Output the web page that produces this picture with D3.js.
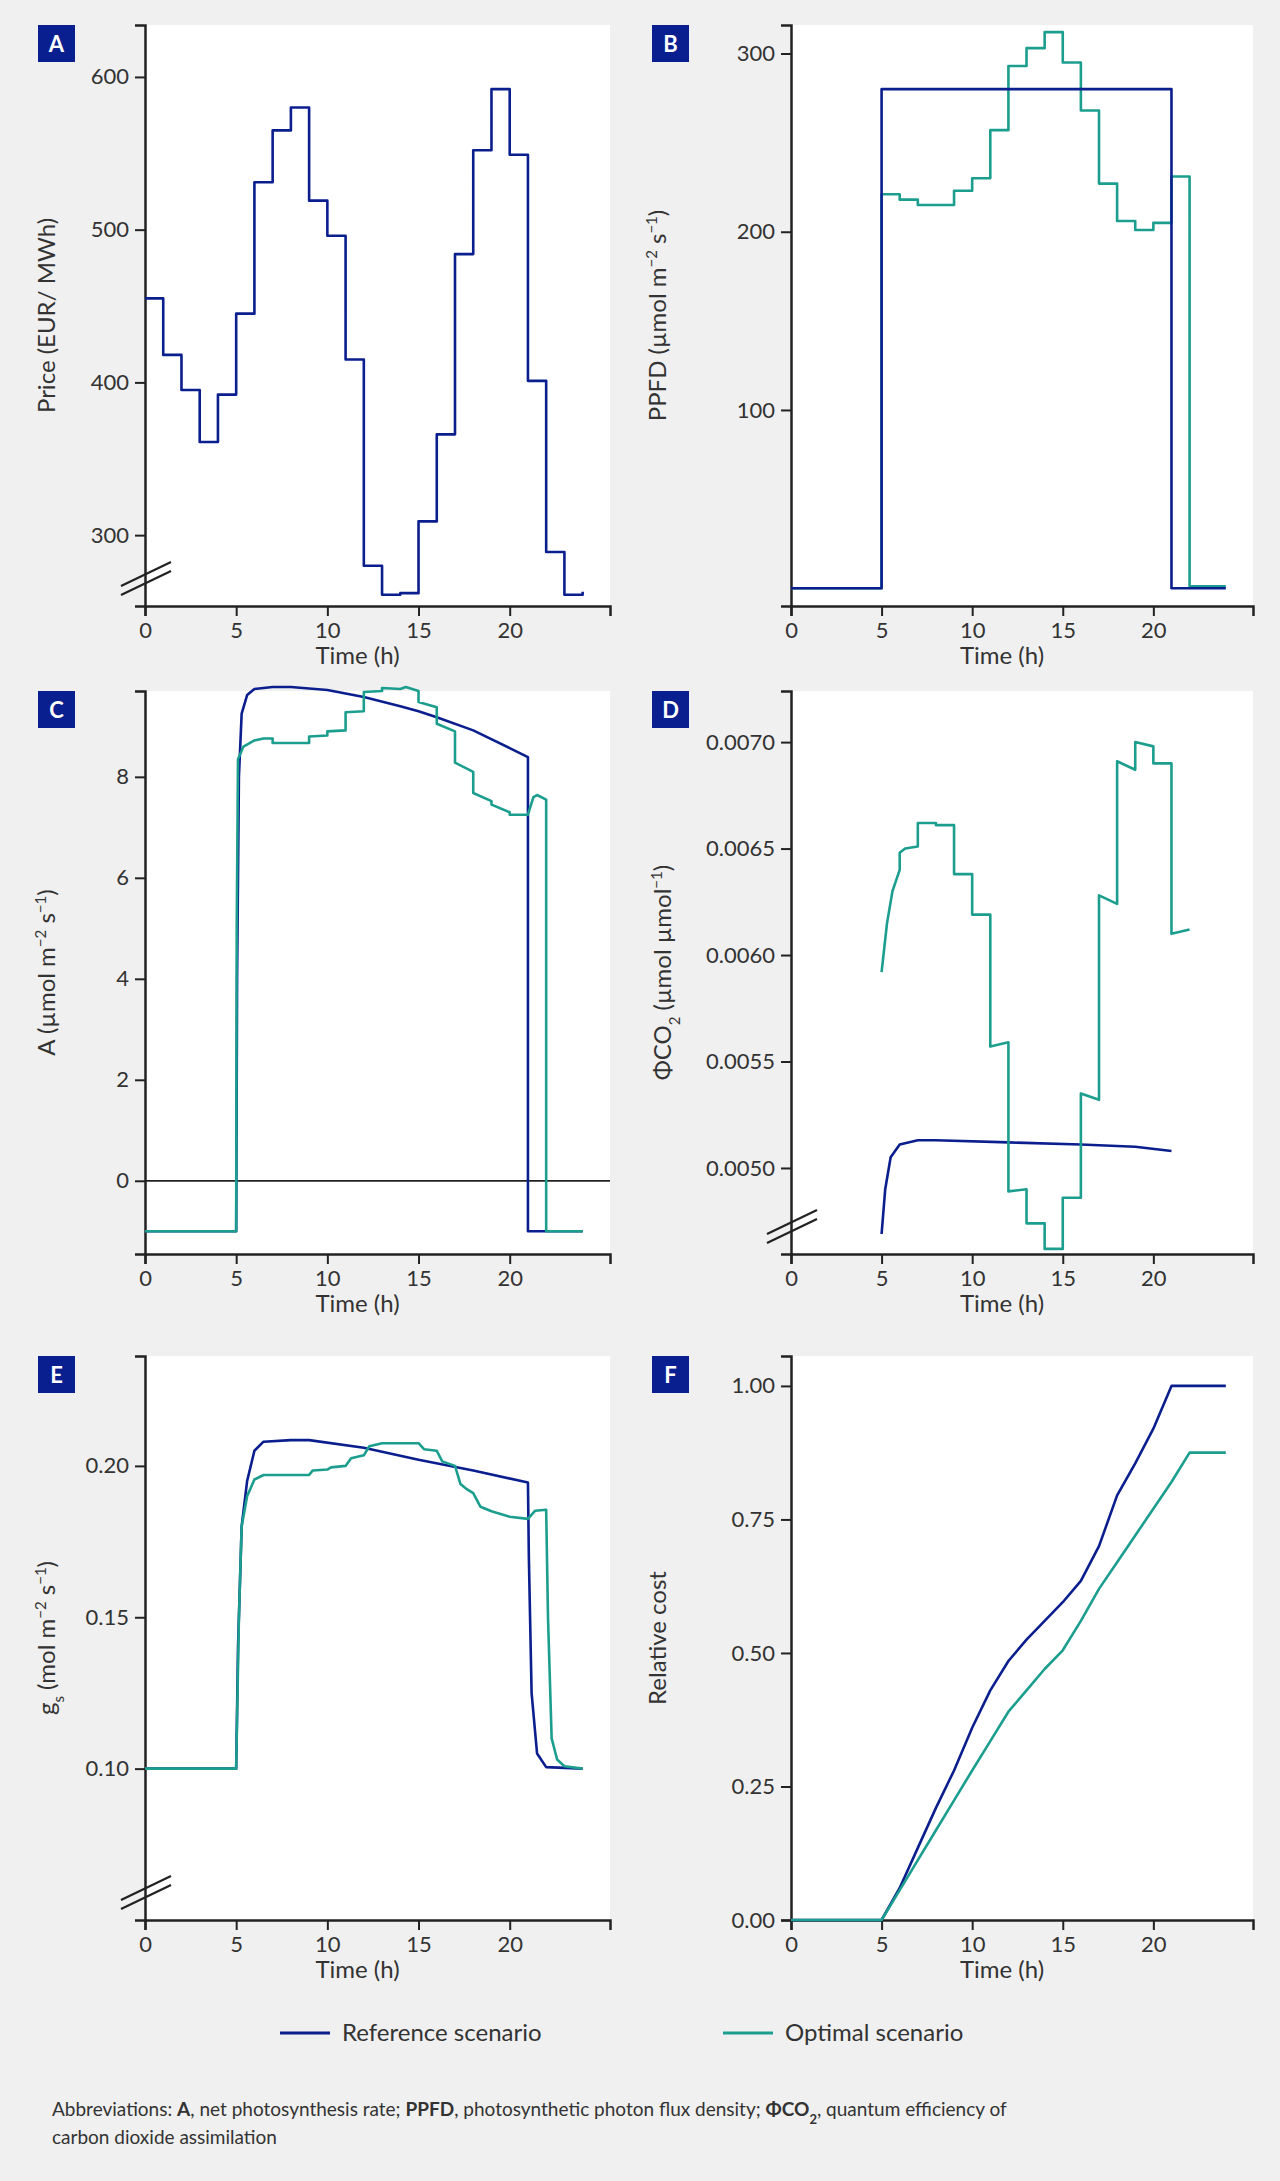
<!DOCTYPE html>
<html>
<head>
<meta charset="utf-8">
<script src="https://cdn.jsdelivr.net/npm/d3@7"></script>
<style>
  body { margin: 0; background: #f0f0f0; }
  svg text { font-family: Lato, "Open Sans", sans-serif; fill: #333; }
</style>
</head>
<body>
<svg id="fig" width="1280" height="2181"></svg>
<script>
// Data
const hours = [0,1,2,3,4,5,6,7,8,9,10,11,12,13,14,15,16,17,18,19,20,21,22,23,24];
const price = [455,418,395,361,392,445,531,565,580,519,496,415,280,261,262,309,366,484,552,592,549,401,289,261,263];
const ppfdRef = [0,0,0,0,0,280,280,280,280,280,280,280,280,280,280,280,280,280,280,280,280,0,0,0,0];
const ppfdOpt = [0,0,0,0,0,221,218,215,215,223,230,257,293,303,312,295,268,227,206,201,205,231,1,1,1];

const aRef = [[0,-1],[5,-1],[5.05,4],[5.15,8],[5.3,9.25],[5.6,9.62],[6,9.74],[7,9.78],[8,9.78],[10,9.72],[12,9.58],[14,9.4],[15,9.3],[16,9.18],[18,8.92],[20,8.57],[21,8.39],[21,-1],[24,-1]];
const aOpt = [[0,-1],[5,-1],[5.03,5],[5.1,8.35],[5.4,8.6],[6,8.72],[6.5,8.76],[7,8.76],[7,8.67],[9,8.67],[9,8.8],[10,8.82],[10,8.9],[11,8.92],[11,9.28],[12,9.3],[12,9.68],[13,9.7],[13,9.76],[14,9.74],[14.3,9.78],[15,9.7],[15,9.48],[16,9.38],[16,9.05],[17,8.9],[17,8.28],[18,8.1],[18,7.68],[19,7.52],[19,7.45],[20,7.3],[20,7.25],[21,7.25],[21.3,7.6],[21.5,7.64],[22,7.55],[22,-1],[24,-1]];

const phiRef = [[5,0.00469],[5.2,0.0049],[5.5,0.00505],[6,0.00511],[7,0.00513],[8,0.00513],[12,0.00512],[16,0.00511],[19,0.0051],[21,0.00508]];
const phiOpt = [[5,0.00592],[5.3,0.00615],[5.6,0.0063],[6,0.0064],[6,0.00648],[6.3,0.0065],[7,0.00651],[7,0.00662],[8,0.00662],[8,0.00661],[9,0.00661],[9,0.00638],[10,0.00638],[10,0.00619],[11,0.00619],[11,0.00557],[12,0.00559],[12,0.00489],[13,0.0049],[13,0.00474],[14,0.00474],[14,0.00462],[15,0.00462],[15,0.00486],[16,0.00486],[16,0.00535],[17,0.00532],[17,0.00628],[18,0.00624],[18,0.00691],[19,0.00687],[19,0.007],[20,0.00698],[20,0.0069],[21,0.0069],[21,0.0061],[22,0.00612]];

const gsRef = [[0,0.1],[5,0.1],[5.1,0.14],[5.3,0.18],[5.6,0.195],[6,0.205],[6.5,0.208],[8,0.2085],[9,0.2085],[12,0.206],[15,0.202],[18,0.1985],[21,0.1945],[21.05,0.17],[21.2,0.125],[21.5,0.105],[22,0.1005],[24,0.1]];
const gsOpt = [[0,0.1],[5,0.1],[5.15,0.15],[5.3,0.18],[5.6,0.19],[6,0.1955],[6.5,0.197],[9,0.197],[9.2,0.1985],[10,0.1988],[10.2,0.1995],[11,0.2],[11.3,0.2025],[12,0.2035],[12.3,0.2065],[13,0.2075],[15,0.2075],[15.3,0.2055],[16,0.205],[16.3,0.2015],[17,0.2],[17.3,0.194],[17.6,0.1925],[18,0.191],[18.4,0.1865],[19,0.185],[20,0.1832],[21,0.1825],[21.4,0.1852],[22,0.1855],[22.1,0.15],[22.3,0.11],[22.6,0.103],[23,0.1008],[24,0.1]];

const costRef = [[0,0],[5,0],[6,0.06],[7,0.135],[8,0.21],[9,0.28],[10,0.36],[11,0.43],[12,0.485],[13,0.525],[14,0.56],[15,0.595],[16,0.635],[17,0.7],[18,0.795],[19,0.855],[20,0.92],[21,1.0],[24,1.0]];
const costOpt = [[0,0],[5,0],[6,0.056],[7,0.112],[8,0.168],[9,0.224],[10,0.28],[11,0.335],[12,0.39],[13,0.43],[14,0.47],[15,0.505],[16,0.56],[17,0.62],[18,0.67],[19,0.72],[20,0.77],[21,0.82],[22,0.875],[24,0.875]];

const xTicks = [0,5,10,15,20];
const navy = "#0b1e8e", teal = "#1c9e8e";

const svg = d3.select("#fig");

// Panel layout: left column / right column, three rows
const cols = [{l:145, r:610}, {l:791, r:1253}];
const rows = [{t:25, b:606}, {t:691, b:1254}, {t:1356, b:1920}];

function panel(opts) {
    const c = cols[opts.col], r = rows[opts.row];
    const g = svg.append("g");
    g.append("rect").attr("x", c.l).attr("y", r.t).attr("width", c.r - c.l).attr("height", r.b - r.t).attr("fill", "#fff");

    const x = d3.scaleLinear().domain([0, 25.5]).range([c.l, c.r]);
    const y = d3.scaleLinear().domain(opts.yDomain).range([r.b, r.t]);

    const xa = g.append("g").attr("transform", `translate(0,${r.b})`)
        .call(d3.axisBottom(x).tickValues(xTicks).tickSize(10).tickPadding(6));
    const ya = g.append("g").attr("transform", `translate(${c.l},0)`)
        .call(d3.axisLeft(y).tickValues(opts.yTicks).tickFormat(opts.fmt).tickSize(10).tickPadding(6));
    [xa, ya].forEach(a => {
        a.select(".domain").attr("stroke", "#222").attr("stroke-width", 2.5);
        a.selectAll(".tick line").attr("stroke", "#222").attr("stroke-width", 2);
        a.selectAll("text").style("font-size", "22px").attr("fill", "#333");
    });

    if (opts.zeroLine) {
        g.append("line").attr("x1", c.l).attr("x2", c.r).attr("y1", y(0)).attr("y2", y(0))
            .attr("stroke", "#222").attr("stroke-width", 1.8);
    }
    if (opts.brk) {
        const by = r.b - 32;
        [0, 9].forEach(o => g.append("line")
            .attr("x1", c.l - 24).attr("y1", by + o + 12).attr("x2", c.l + 26).attr("y2", by + o - 12)
            .attr("stroke", "#222").attr("stroke-width", 2.2));
    }

    g.append("text").attr("x", (c.l + c.r) / 2 - 20).attr("y", r.b + 58)
        .attr("text-anchor", "middle").style("font-size", "24px").text("Time (h)");

    const yl = g.append("text").attr("transform", `translate(${c.l - 90 + (opts.ylOff || 0)},${(r.t + r.b) / 2}) rotate(-90)`)
        .attr("text-anchor", "middle").style("font-size", "24px");
    opts.yLabel.forEach(p => {
        const t = yl.append("tspan").text(p[0]);
        if (p[1] === "sup") t.attr("baseline-shift", "super").style("font-size", "15px");
        if (p[1] === "sub") t.attr("baseline-shift", "sub").style("font-size", "15px");
    });

    // badge
    const bx = opts.col === 0 ? 38 : 652;
    g.append("rect").attr("x", bx).attr("y", r.t).attr("width", 37).attr("height", 37).attr("fill", "#0a1f8f");
    g.append("text").attr("x", bx + 18.5).attr("y", r.t + 27).attr("text-anchor", "middle")
        .style("font-size", "22px").style("font-weight", "bold").style("fill", "#fff").text(opts.badge);

    opts.series.forEach(s => {
        const line = d3.line().x(d => x(d[0])).y(d => y(d[1])).curve(s.curve || d3.curveLinear);
        g.append("path").datum(s.data).attr("d", line).attr("fill", "none")
            .attr("stroke", s.color).attr("stroke-width", 2.6).attr("stroke-linejoin", "round");
    });
}

const zipH = v => hours.map((h, i) => [h, v[i]]);

panel({col:0, row:0, badge:"A", yDomain:[253.6, 634], yTicks:[300,400,500,600], fmt:d3.format("d"), brk:true,
    yLabel:[["Price (EUR/ MWh)"]], ylOff:0,
    series:[{data: zipH(price), color: navy, curve: d3.curveStepAfter}]});

panel({col:1, row:0, badge:"B", yDomain:[-10, 316], yTicks:[100,200,300], fmt:d3.format("d"),
    yLabel:[["PPFD (µmol m"],["−2","sup"],[" s"],["−1","sup"],[")"]], ylOff:-35,
    series:[{data: zipH(ppfdOpt), color: teal, curve: d3.curveStepAfter},
            {data: zipH(ppfdRef), color: navy, curve: d3.curveStepAfter}]});

panel({col:0, row:1, badge:"C", yDomain:[-1.45, 9.7], yTicks:[0,2,4,6,8], fmt:d3.format("d"), zeroLine:true,
    yLabel:[["A (µmol m"],["−2","sup"],[" s"],["−1","sup"],[")"]], ylOff:0,
    series:[{data: aRef, color: navy}, {data: aOpt, color: teal}]});

panel({col:1, row:1, badge:"D", yDomain:[0.004596, 0.00724], yTicks:[0.005,0.0055,0.006,0.0065,0.007], fmt:d3.format(".4f"), brk:true,
    yLabel:[["ΦCO"],["2","sub"],[" (µmol µmol"],["−1","sup"],[")"]], ylOff:-30,
    series:[{data: phiRef, color: navy}, {data: phiOpt, color: teal}]});

panel({col:0, row:2, badge:"E", yDomain:[0.05, 0.2363], yTicks:[0.10,0.15,0.20], fmt:d3.format(".2f"), brk:true,
    yLabel:[["g"],["s","sub"],[" (mol m"],["−2","sup"],[" s"],["−1","sup"],[")"]], ylOff:0,
    series:[{data: gsRef, color: navy}, {data: gsOpt, color: teal}]});

panel({col:1, row:2, badge:"F", yDomain:[0, 1.056], yTicks:[0,0.25,0.5,0.75,1], fmt:d3.format(".2f"),
    yLabel:[["Relative cost"]], ylOff:-35,
    series:[{data: costRef, color: navy}, {data: costOpt, color: teal}]});

// Legend
const legend = [["Reference scenario", navy, 280], ["Optimal scenario", teal, 723]];
legend.forEach(([name, col, lx]) => {
    svg.append("line").attr("x1", lx).attr("x2", lx + 50).attr("y1", 2033).attr("y2", 2033)
        .attr("stroke", col).attr("stroke-width", 3);
    svg.append("text").attr("x", lx + 62).attr("y", 2041).style("font-size", "24px").text(name);
});

// Footnote
const fn = svg.append("text").attr("x", 52).attr("y", 2116).style("font-size", "19px");
[["Abbreviations: "],["A","b"],[", net photosynthesis rate; "],["PPFD","b"],[", photosynthetic photon flux density; "],
 ["ΦCO","b"],["2","bs"],[", quantum efficiency of"]].forEach(p => {
    const t = fn.append("tspan").text(p[0]);
    if (p[1] === "b") t.style("font-weight", "bold");
    if (p[1] === "bs") t.style("font-weight", "bold").style("font-size", "13px").attr("baseline-shift", "sub");
});
svg.append("text").attr("x", 52).attr("y", 2144).style("font-size", "19px").text("carbon dioxide assimilation");
</script>
</body>
</html>
